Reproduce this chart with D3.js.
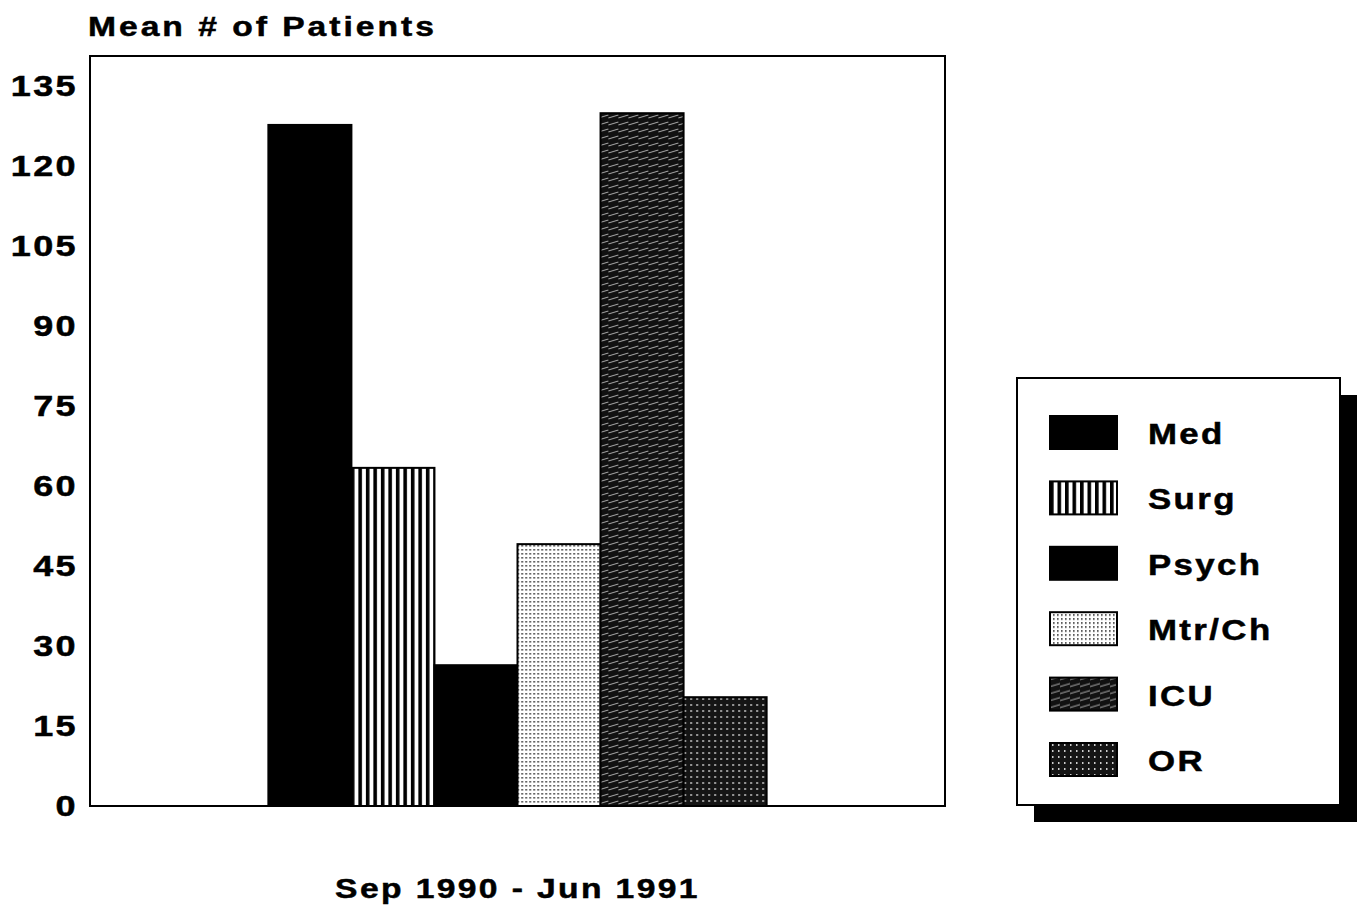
<!DOCTYPE html>
<html>
<head>
<meta charset="utf-8">
<script src="https://cdn.jsdelivr.net/npm/d3@7"></script>
<style>
  body { margin: 0; background: #fff; }
  text { font-family: "Liberation Sans", Arial, sans-serif; font-weight: bold; fill: #000; stroke: #000; stroke-width: 0.5; }
</style>
</head>
<body>
<svg id="chart" width="1360" height="908"></svg>
<script>
const categories = ["Med", "Surg", "Psych", "Mtr/Ch", "ICU", "OR"];
const values = [127.7, 63.4, 26.4, 49.1, 129.9, 20.4];
const period = "Sep 1990 - Jun 1991";
const yTicks = [0, 15, 30, 45, 60, 75, 90, 105, 120, 135];

const svg = d3.select("#chart"),
    margin = { left: 90, top: 56, right: 945, bottom: 806 };

// the old typeface is wide, so stretch text a bit
const stretch = "scale(1.2,1)";

const y = d3.scaleLinear()
    .domain([0, 135])
    .range([margin.bottom, 86]);

const x0 = d3.scaleBand()
    .domain([period])
    .range([margin.left, margin.right])
    .paddingInner(0)
    .paddingOuter(0.358);

const x1 = d3.scaleBand()
    .domain(categories)
    .range([0, x0.bandwidth()]);

// fill patterns, one per ward
const defs = svg.append("defs");

function pat(id, w, h, bg) {
    const p = defs.append("pattern")
        .attr("id", id)
        .attr("patternUnits", "userSpaceOnUse")
        .attr("width", w).attr("height", h);
    p.append("rect").attr("width", w).attr("height", h).attr("fill", bg);
    return p;
}

// Surg: vertical stripes
pat("surg", 7.5, 8, "#fff")
    .append("rect").attr("x", 0).attr("width", 3.6).attr("height", 8).attr("fill", "#000");

// Mtr/Ch: fine dots
const dots = pat("mtr", 4, 4, "#fff");
dots.append("rect").attr("x", 1).attr("y", 1).attr("width", 1.6).attr("height", 1.6).attr("fill", "#333");

// ICU: dark with thin diagonal light hatching
const icu = pat("icu", 10, 7, "#111");
icu.append("path").attr("d", "M0,6 L10,3").attr("stroke", "#bbb").attr("stroke-width", 0.9);

// OR: dark with dotted grid
const orp = pat("or", 6, 6, "#151515");
orp.append("rect").attr("x", 2).attr("y", 2).attr("width", 1.5).attr("height", 2).attr("fill", "#ccc");

const fills = {
    "Med": "#000",
    "Surg": "url(#surg)",
    "Psych": "#000",
    "Mtr/Ch": "url(#mtr)",
    "ICU": "url(#icu)",
    "OR": "url(#or)"
};

// plot frame
svg.append("rect")
    .attr("x", margin.left).attr("y", margin.top)
    .attr("width", margin.right - margin.left)
    .attr("height", margin.bottom - margin.top)
    .attr("fill", "none").attr("stroke", "#000").attr("stroke-width", 2);

// y axis labels
const yAxis = svg.append("g")
    .attr("transform", "translate(" + margin.left + ",0)")
    .call(d3.axisLeft(y).tickValues(yTicks).tickSize(0).tickPadding(10));
yAxis.select(".domain").remove();
yAxis.selectAll("text")
    .attr("font-size", 30)
    .attr("font-family", "Liberation Sans, Arial, sans-serif")
    .attr("font-weight", "bold")
    .attr("letter-spacing", 2)
    .attr("fill", "#000")
    .attr("transform", stretch);

// bars
const group = svg.append("g")
    .attr("transform", "translate(" + x0(period) + ",0)");

group.selectAll("rect.bar")
    .data(categories.map((c, i) => ({ cat: c, val: values[i] })))
    .enter().append("rect")
    .attr("class", "bar")
    .attr("x", d => x1(d.cat))
    .attr("y", d => y(d.val))
    .attr("width", x1.bandwidth())
    .attr("height", d => y(0) - y(d.val))
    .attr("fill", d => fills[d.cat])
    .attr("stroke", "#000")
    .attr("stroke-width", 2);

// titles
svg.append("text")
    .attr("transform", "translate(88,36) " + stretch)
    .attr("font-size", 28)
    .attr("letter-spacing", 2.5)
    .text("Mean # of Patients");

svg.append("text")
    .attr("transform", "translate(" + (x0(period) + x0.bandwidth() / 2) + ",898) " + stretch)
    .attr("text-anchor", "middle")
    .attr("font-size", 28)
    .attr("letter-spacing", 2)
    .text(period);

// legend
const lg = svg.append("g");
lg.append("rect")
    .attr("x", 1034).attr("y", 395).attr("width", 323).attr("height", 427)
    .attr("fill", "#000");
lg.append("rect")
    .attr("x", 1017).attr("y", 378).attr("width", 323).attr("height", 427)
    .attr("fill", "#fff").attr("stroke", "#000").attr("stroke-width", 2);

const rowY = d3.scalePoint()
    .domain(categories)
    .range([433, 760]);

const item = lg.selectAll("g.item")
    .data(categories)
    .enter().append("g")
    .attr("class", "item")
    .attr("transform", d => "translate(0," + rowY(d) + ")");

item.append("rect")
    .attr("x", 1050).attr("y", -17)
    .attr("width", 67).attr("height", 33)
    .attr("fill", d => fills[d])
    .attr("stroke", "#000").attr("stroke-width", 2);

item.append("text")
    .attr("transform", "translate(1148,11) " + stretch)
    .attr("font-size", 29)
    .attr("letter-spacing", 2)
    .text(d => d);
</script>
</body>
</html>
